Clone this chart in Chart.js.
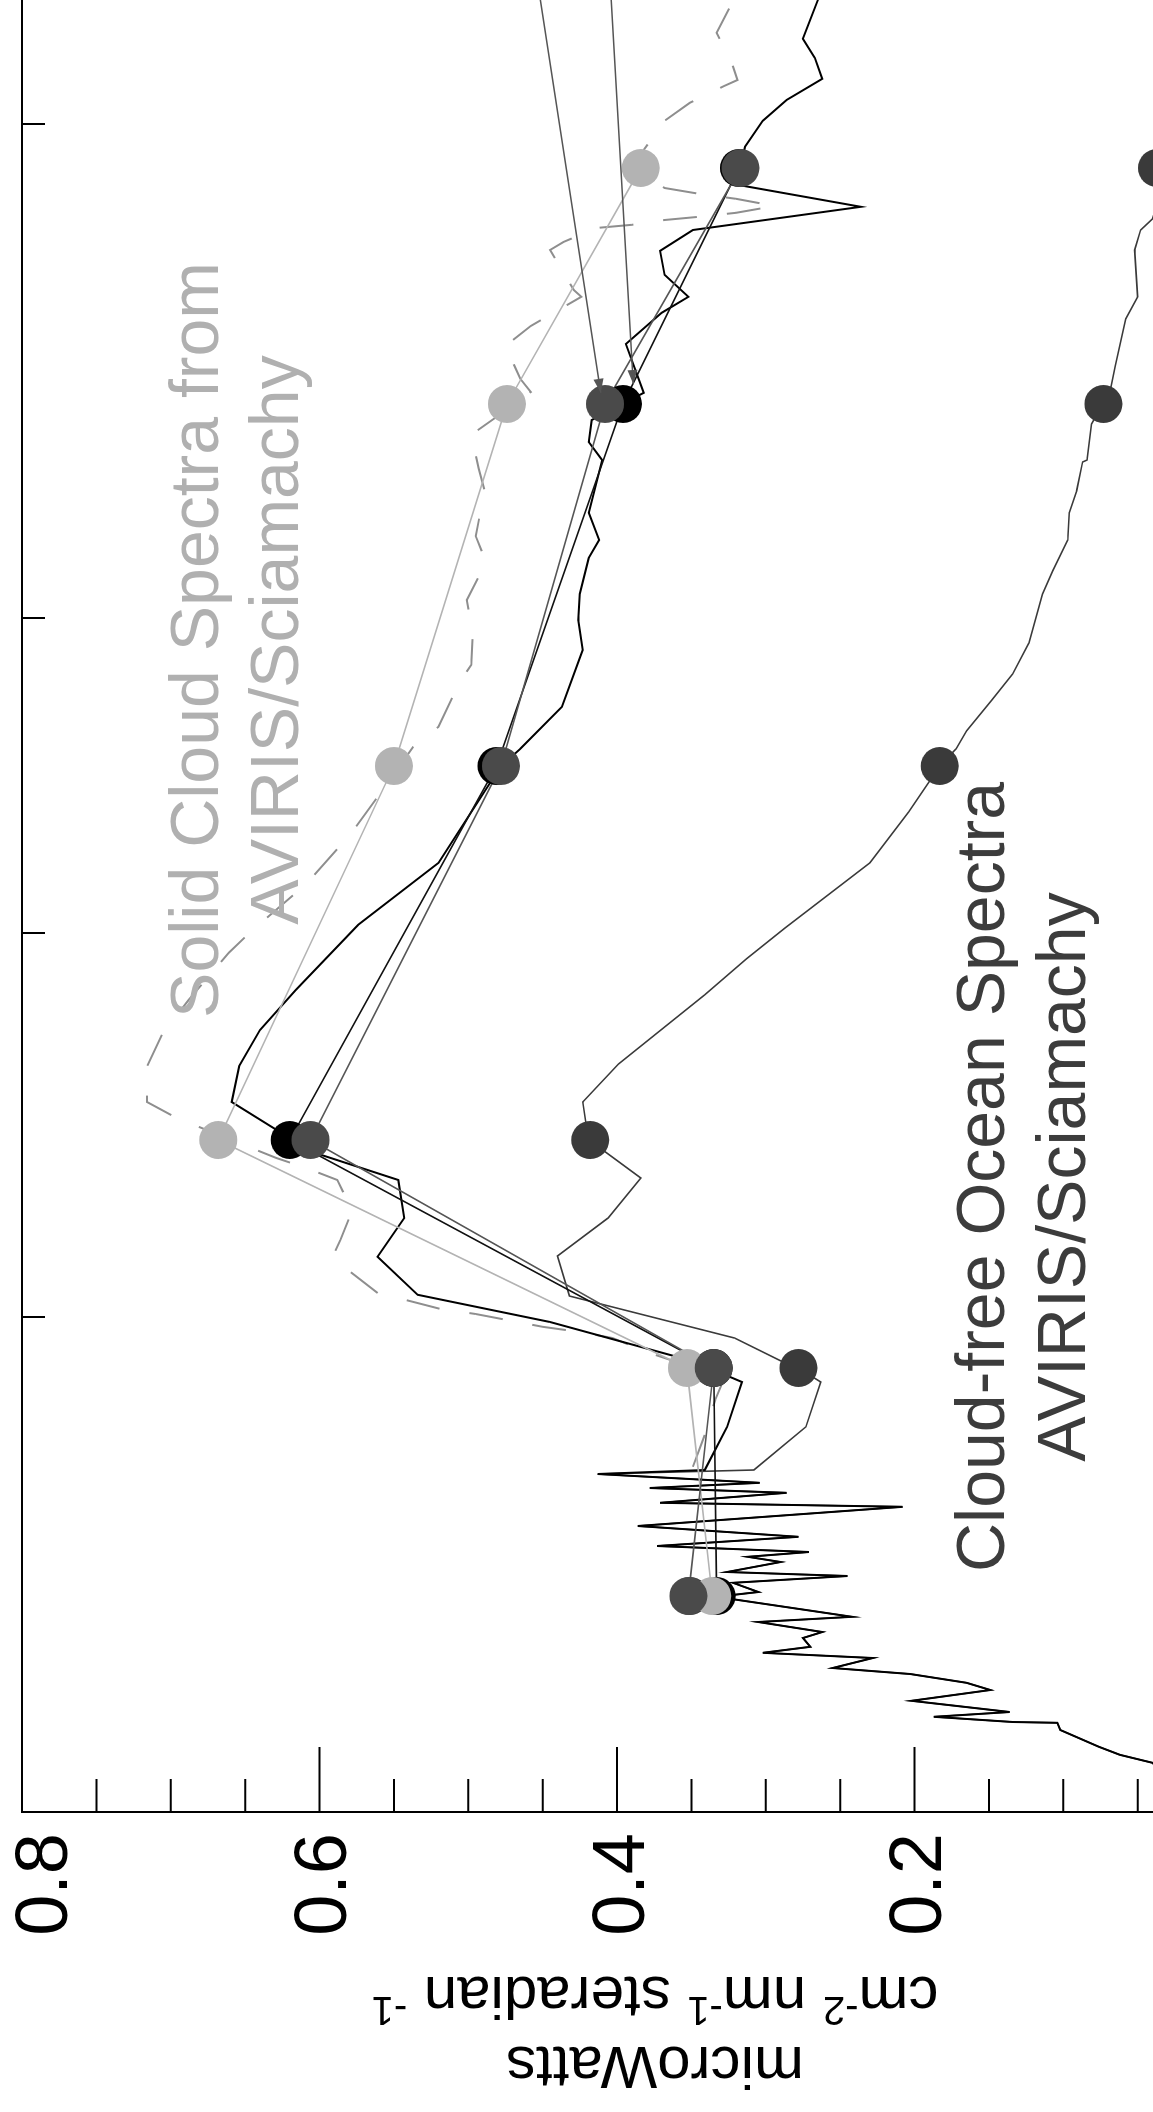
<!DOCTYPE html>
<html>
<head>
<meta charset="utf-8">
<title>Cloud and ocean spectra</title>
<script src="https://cdn.jsdelivr.net/npm/chart.js@4.4.1/dist/chart.umd.min.js"></script>
<style>
  html, body { margin: 0; padding: 0; background: #fff; }
  #frame { position: relative; width: 1153px; height: 2112px; overflow: hidden; background: #fff; }
  /* the figure is drawn upright and then turned a quarter turn to the left */
  #spectra { position: absolute; left: 0; top: 0; transform-origin: 0 0; transform: translate(0, 2112px) rotate(-90deg); }
</style>
</head>
<body>
<div id="frame"><canvas id="spectra" width="2500" height="1300"></canvas></div>
<script>
// band centres (nm) and band averaged radiances
const BAND_WL = [354, 411, 468, 561.5, 652, 711];
const CLOUD_LIGHT_BANDS = [0.336, 0.353, 0.668, 0.550, 0.474, 0.384];
const CLOUD_BLACK_BANDS = [0.333, 0.335, 0.620, 0.481, 0.396, 0.318];
const CLOUD_DARK_BANDS = [0.352, 0.335, 0.606, 0.478, 0.408, 0.317];
const OCEAN_BANDS = [0.351, 0.278, 0.418, 0.183, 0.073, 0.037];

// UV part, shared by the cloud and ocean spectra
const UV_WL = [300, 312.3, 314.3, 316.3, 320.5, 322.3, 322.5, 323.8, 325, 327.8, 330.5, 332.3, 334.5, 336, 338.5, 339.8, 341.3, 343.5, 345, 347.5, 348.8, 353.8, 355, 357.3, 359, 360, 362.5, 363.8, 365, 366.5, 368.8, 371.5, 376.3, 377.3, 379.8, 381, 382.3, 384.5];
const UV_VAL = [0.010, 0.040, 0.062, 0.076, 0.102, 0.104, 0.134, 0.187, 0.136, 0.202, 0.149, 0.165, 0.203, 0.255, 0.228, 0.302, 0.270, 0.275, 0.262, 0.305, 0.242, 0.333, 0.305, 0.322, 0.245, 0.326, 0.290, 0.312, 0.271, 0.373, 0.278, 0.386, 0.208, 0.371, 0.286, 0.378, 0.304, 0.413];

// solid cloud spectrum (black)
const CLOUD_WL = [385.5, 396.3, 407.5, 410.5, 412.5, 422.5, 429.3, 438.8, 448.5, 458, 464.3, 471, 477.5, 486.5, 495.5, 505.5, 521.8, 537.3, 561.5, 565.8, 576.3, 590.5, 598, 604.5, 613.5, 618, 624.8, 638, 642.5, 648, 654.8, 667, 674.8, 678.8, 684.3, 690.3, 695.5, 701.3, 706.8, 716.3, 722.8, 728, 733.3, 738.5, 743.3, 753, 768];
const CLOUD_VAL = [0.341, 0.326, 0.316, 0.335, 0.347, 0.445, 0.534, 0.561, 0.543, 0.547, 0.599, 0.631, 0.659, 0.654, 0.640, 0.616, 0.574, 0.520, 0.478, 0.465, 0.437, 0.423, 0.426, 0.425, 0.419, 0.412, 0.419, 0.410, 0.419, 0.417, 0.382, 0.394, 0.370, 0.352, 0.368, 0.371, 0.349, 0.236, 0.319, 0.314, 0.302, 0.286, 0.262, 0.267, 0.275, 0.265, 0.253];

// second cloud spectrum (dashed)
const DASH_WL = [386.3, 394.3, 403, 407.5, 408.8, 412.5, 415, 418.5, 420, 421.3, 424.5, 425.8, 428, 429.5, 435.8, 439, 443, 450.3, 458, 461, 463.5, 473.5, 477.5, 486.3, 494.3, 503, 514.8, 520.5, 532, 544.5, 555.8, 566.3, 571.3, 582.3, 586.8, 595, 603, 612.5, 619, 630.3, 635.8, 644.3, 649.3, 655, 658.3, 666.5, 671.5, 676, 678.8, 680.5, 690.5, 692.5, 696, 696.8, 698, 698.8, 699.8, 701.5, 703.3, 704.5, 706, 709.8, 711.8, 714.5, 722.8, 727.3, 731.5, 733, 737.5, 744.8, 752, 763];
const DASH_VAL = [0.349, 0.341, 0.334, 0.329, 0.337, 0.360, 0.380, 0.403, 0.425, 0.450, 0.495, 0.519, 0.542, 0.560, 0.582, 0.591, 0.586, 0.578, 0.588, 0.609, 0.629, 0.696, 0.716, 0.716, 0.706, 0.688, 0.661, 0.645, 0.609, 0.579, 0.557, 0.537, 0.520, 0.506, 0.498, 0.497, 0.501, 0.488, 0.495, 0.489, 0.493, 0.498, 0.479, 0.458, 0.465, 0.475, 0.458, 0.437, 0.424, 0.429, 0.445, 0.436, 0.414, 0.390, 0.368, 0.345, 0.320, 0.294, 0.320, 0.344, 0.368, 0.384, 0.390, 0.384, 0.368, 0.351, 0.328, 0.319, 0.323, 0.333, 0.323, 0.314];

// cloud-free ocean spectrum
const OCEAN_WL = [385.5, 396.3, 407.5, 411, 412.8, 418.5, 429, 439, 448.5, 458.5, 467.8, 472.5, 477.5, 487, 504.3, 513.3, 521, 537.3, 550, 561.5, 565.8, 570.3, 578, 584.5, 592.3, 604.5, 610.3, 618, 624.8, 630.3, 637.5, 638, 647, 652.3, 656, 661.5, 673.3, 678.8, 690.5, 695.5, 698.3, 704.3, 711.3, 725.5];
const OCEAN_VAL = [0.308, 0.273, 0.263, 0.278, 0.290, 0.321, 0.432, 0.440, 0.406, 0.384, 0.418, 0.421, 0.423, 0.399, 0.341, 0.313, 0.287, 0.230, 0.204, 0.183, 0.172, 0.165, 0.148, 0.134, 0.123, 0.114, 0.107, 0.097, 0.096, 0.091, 0.087, 0.084, 0.081, 0.073, 0.068, 0.065, 0.058, 0.050, 0.052, 0.048, 0.040, 0.035, 0.037, 0.028];

// pointer arrows coming in from the cropped right side
const ARROW_FROM_WL = [828, 828];
const ARROW_FROM_VAL = [0.4825, 0.4154];
const ARROW_TO_WL = [654.8, 657];
const ARROW_TO_VAL = [0.411, 0.389];

// axes
const X_TICKS = [423.75, 519.75, 598.5, 722];
const Y_TICK_VALUES = [0.8, 0.6, 0.4, 0.2, 0];
const Y_TICK_LABELS = ['0.8', '0.6', '0.4', '0.2', '0'];

const FONT = '"Liberation Sans", Arial, Helvetica, sans-serif';

function zip(xs, ys) {
  return xs.map((x, i) => ({ x: x, y: ys[i] }));
}

const uvPoints = zip(UV_WL, UV_VAL);
const cloudSpectrum = uvPoints.concat(zip(CLOUD_WL, CLOUD_VAL));
const oceanSpectrum = uvPoints.concat(zip(OCEAN_WL, OCEAN_VAL));
const dashedSpectrum = zip(DASH_WL, DASH_VAL);

function lineSet(data, color, width, order, dash) {
  return {
    data: data,
    showLine: true,
    borderColor: color,
    borderWidth: width,
    borderDash: dash || [],
    pointRadius: 0,
    pointHoverRadius: 0,
    order: order
  };
}

function dotSet(bands, color, order) {
  return {
    data: zip(BAND_WL, bands),
    showLine: false,
    pointRadius: 19,
    pointHoverRadius: 19,
    pointBackgroundColor: color,
    pointBorderColor: color,
    pointBorderWidth: 0,
    order: order
  };
}

function drawArrow(ctx, x0, y0, x1, y1) {
  const ang = Math.atan2(y1 - y0, x1 - x0);
  ctx.beginPath();
  ctx.moveTo(x0, y0);
  ctx.lineTo(x1, y1);
  ctx.stroke();
  ctx.beginPath();
  ctx.moveTo(x1, y1);
  ctx.lineTo(x1 - 14 * Math.cos(ang) + 5 * Math.sin(ang), y1 - 14 * Math.sin(ang) - 5 * Math.cos(ang));
  ctx.lineTo(x1 - 14 * Math.cos(ang) - 5 * Math.sin(ang), y1 - 14 * Math.sin(ang) + 5 * Math.cos(ang));
  ctx.closePath();
  ctx.fill();
}

function drawLines(ctx, lines, x, ys, color) {
  ctx.fillStyle = color;
  ctx.font = '68px ' + FONT;
  ctx.textAlign = 'center';
  ctx.textBaseline = 'alphabetic';
  lines.forEach((line, i) => ctx.fillText(line, x, ys[i]));
}

const framePlugin = {
  id: 'frame',
  afterDatasetsDraw(chart) {
    const { ctx, scales } = chart;
    ctx.save();
    ctx.strokeStyle = '#555';
    ctx.fillStyle = '#555';
    ctx.lineWidth = 1.5;
    ARROW_FROM_WL.forEach((w, i) => {
      drawArrow(ctx,
        scales.x.getPixelForValue(w), scales.y.getPixelForValue(ARROW_FROM_VAL[i]),
        scales.x.getPixelForValue(ARROW_TO_WL[i]), scales.y.getPixelForValue(ARROW_TO_VAL[i]));
    });
    ctx.restore();
  },
  afterDraw(chart) {
    const { ctx, chartArea: area, scales } = chart;
    const xs = scales.x;
    const ys = scales.y;
    ctx.save();

    // left axis and top frame line
    ctx.strokeStyle = '#000';
    ctx.lineWidth = 2;
    ctx.beginPath();
    ctx.moveTo(area.left, chart.height);
    ctx.lineTo(area.left, area.top);
    ctx.lineTo(chart.width, area.top);
    ctx.stroke();

    // inward ticks, major every 0.2, minor every 0.05
    for (let i = 0; i <= 16; i++) {
      const py = ys.getPixelForValue(i * 0.05);
      const len = i % 4 === 0 ? 65 : 33;
      ctx.beginPath();
      ctx.moveTo(area.left, py);
      ctx.lineTo(area.left + len, py);
      ctx.stroke();
    }
    X_TICKS.forEach(w => {
      const px = xs.getPixelForValue(w);
      ctx.beginPath();
      ctx.moveTo(px, area.top);
      ctx.lineTo(px, area.top + 23);
      ctx.stroke();
    });

    // tick labels
    ctx.fillStyle = '#000';
    ctx.font = '74px ' + FONT;
    ctx.textAlign = 'right';
    ctx.textBaseline = 'alphabetic';
    Y_TICK_VALUES.forEach((v, i) => {
      const py = Math.max(ys.getPixelForValue(v), area.top + 18);
      ctx.fillText(Y_TICK_LABELS[i], area.left - 21, py + 26.5);
    });

    // axis title, two lines, turned
    const titleMid = area.top + 633;
    ctx.save();
    ctx.translate(65, titleMid);
    ctx.rotate(-Math.PI / 2);
    ctx.textAlign = 'center';
    ctx.font = '60px ' + FONT;
    ctx.fillText('microWatts', 0, 0);
    ctx.restore();

    const runs = [['cm', false], ['-2', true], [' nm', false], ['-1', true], [' steradian ', false], ['-1', true]];
    ctx.save();
    ctx.translate(135, titleMid);
    ctx.rotate(-Math.PI / 2);
    ctx.textAlign = 'left';
    let total = 0;
    runs.forEach(r => {
      ctx.font = (r[1] ? '40px ' : '60px ') + FONT;
      total += ctx.measureText(r[0]).width;
    });
    let cx = -total / 2;
    runs.forEach(r => {
      ctx.font = (r[1] ? '40px ' : '60px ') + FONT;
      ctx.fillText(r[0], cx, r[1] ? -20 : 0);
      cx += ctx.measureText(r[0]).width;
    });
    ctx.restore();

    // in-plot labels
    drawLines(ctx, ['Solid Cloud Spectra from', 'AVIRIS/Sciamachy'],
      xs.getPixelForValue(593), [ys.getPixelForValue(0.668), ys.getPixelForValue(0.6143)], '#b0b0b0');
    drawLines(ctx, ['Cloud-free Ocean Spectra', 'AVIRIS/Sciamachy'],
      xs.getPixelForValue(458.75), [ys.getPixelForValue(0.1396), ys.getPixelForValue(0.0851)], '#3c3c3c');

    ctx.restore();
  }
};

const ctx = document.getElementById('spectra').getContext('2d');
new Chart(ctx, {
  type: 'scatter',
  data: {
    datasets: [
      lineSet(dashedSpectrum, '#8e8e8e', 2, 20, [34, 30]),
      lineSet(oceanSpectrum, '#3a3a3a', 1.6, 19),
      lineSet(cloudSpectrum, '#000000', 2, 18),
      lineSet(zip(BAND_WL, CLOUD_LIGHT_BANDS), '#b3b3b3', 1.6, 17),
      lineSet(zip(BAND_WL, CLOUD_BLACK_BANDS), '#111111', 1.6, 16),
      lineSet(zip(BAND_WL, CLOUD_DARK_BANDS), '#555555', 1.6, 15),
      dotSet(OCEAN_BANDS, '#3a3a3a', 14),
      dotSet(CLOUD_BLACK_BANDS, '#000000', 13),
      dotSet(CLOUD_LIGHT_BANDS, '#b3b3b3', 12),
      dotSet(CLOUD_DARK_BANDS, '#4a4a4a', 11)
    ]
  },
  options: {
    responsive: false,
    animation: false,
    devicePixelRatio: 1,
    layout: { padding: { left: 300, top: 22, right: 40, bottom: 88 } },
    scales: {
      x: { type: 'linear', min: 300, max: 840, display: false },
      y: { type: 'linear', min: 0, max: 0.8, display: false }
    },
    plugins: {
      legend: { display: false },
      tooltip: { enabled: false }
    }
  },
  plugins: [framePlugin]
});
</script>
</body>
</html>
